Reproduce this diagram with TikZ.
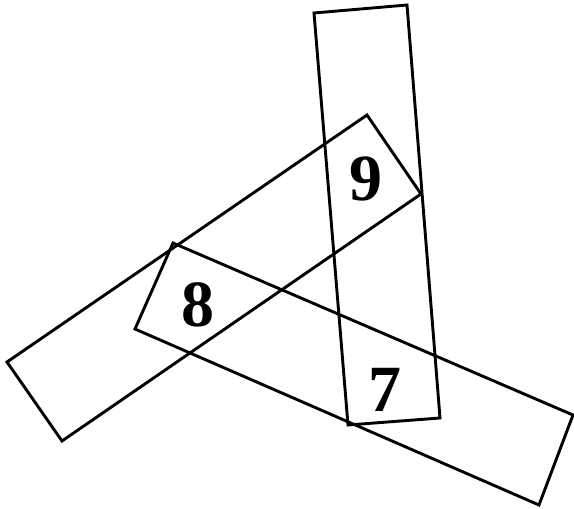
\documentclass[tikz,border=0pt]{standalone}
\usepackage{fontspec}
\setmainfont{Liberation Serif}
\usetikzlibrary{positioning}

\begin{document}
\begin{tikzpicture}[
  x=1pt, y=-1pt,
  band/.style={draw, line width=2.9pt, line join=miter},
  num/.style={font=\fontsize{66}{66}\selectfont\bfseries, inner sep=0pt}
]
\useasboundingbox (0,0) rectangle (574,509);
% three bands
\draw[band] (314,13) -- (407,5) -- (440,418) -- (348,425) -- cycle;
\draw[band] (7,362) -- (367,115) -- (421,194) -- (62,441) -- cycle;
\draw[band] (173,243) -- (573,415) -- (539,505) -- (135,329) -- cycle;
% labels
\node[num] (nine) at (366,179) {9};
\node[num] (eight) at (198,305) {8};
\node[num] (seven) at (385,390) {7};
\end{tikzpicture}
\end{document}
